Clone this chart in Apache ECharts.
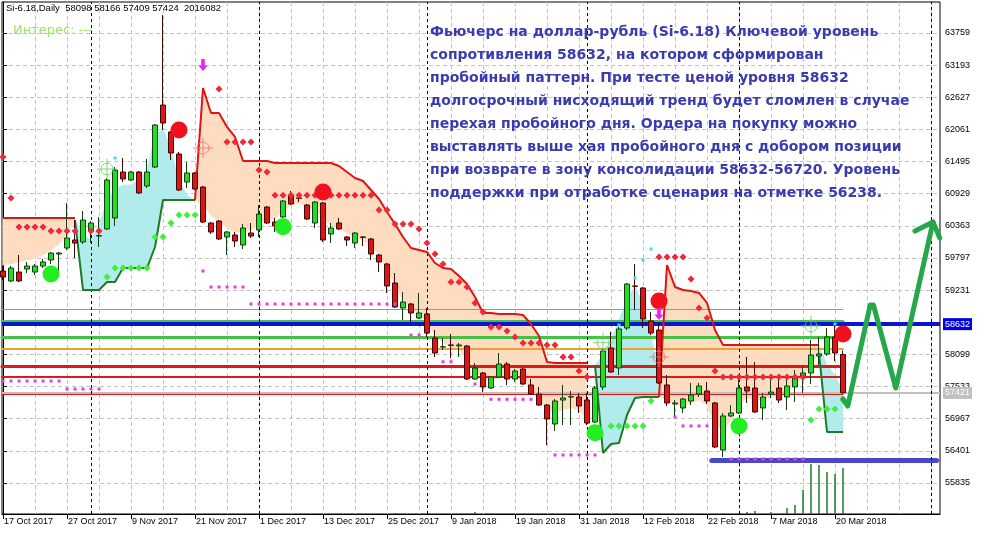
<!DOCTYPE html>
<html>
<head>
<meta charset="utf-8">
<title>Si-6.18 Daily</title>
<script src="https://cdn.jsdelivr.net/npm/echarts@6/dist/echarts.min.js"></script>
<style>
  html, body { margin: 0; padding: 0; background: #fff; }
  #chart { width: 988px; height: 535px; }
</style>
</head>
<body>
<div id="chart"></div>
<script>
// bars are counted from 0 (17 Oct 2017) to 105 (21 Mar 2018), the rest is empty space on the right
const tickBars = [0, 8, 16, 24, 32, 40, 48, 56, 64, 72, 80, 88, 96, 104]
const tickLabels = ['17 Oct 2017', '27 Oct 2017', '9 Nov 2017', '21 Nov 2017', '1 Dec 2017', '13 Dec 2017',
  '25 Dec 2017', '9 Jan 2018', '19 Jan 2018', '31 Jan 2018', '12 Feb 2018', '22 Feb 2018', '7 Mar 2018', '20 Mar 2018']
const priceTicks = [55835, 56401, 56967, 57533, 58099, 58665, 59231, 59797, 60363, 60929, 61495, 62061, 62627, 63193, 63759]
const separatorBars = [11, 32, 53, 73, 92, 116]
const lastVolume = 2016082

// [open, close, low, high]
const candles = [
  [59568, 59462, 59410, 59656], [59392, 59621, 59374, 59656], [59550, 59392, 59374, 59850], [59603, 59656, 59533, 59727],
  [59550, 59656, 59498, 59691], [59656, 59727, 59621, 59780], [59762, 59885, 59691, 59903], [59867, 59885, 59533, 59903],
  [59973, 60149, 59938, 60765], [60114, 60061, 59797, 60466], [60079, 60466, 60043, 60625], [60272, 60413, 60061, 60448],
  [60184, 60190, 59991, 60519], [60308, 61170, 60290, 61206], [60501, 61346, 60360, 61399], [61311, 61188, 61135, 61558],
  [61170, 61311, 61153, 61329], [61311, 60942, 60924, 61329], [61065, 61311, 61030, 61540], [61399, 62139, 61382, 62156],
  [62491, 62174, 62051, 64076], [62016, 61646, 61523, 62033], [61628, 60994, 60977, 61663], [61135, 61294, 61030, 61487],
  [61294, 61012, 60994, 61311], [61047, 60431, 60413, 61065], [60413, 60255, 60220, 60431], [60448, 60132, 60114, 60466],
  [60167, 60255, 59850, 60272], [60202, 60096, 59991, 60255], [60026, 60325, 59956, 60396], [60237, 60184, 60149, 60413],
  [60290, 60572, 60167, 60730], [60695, 60413, 60396, 60712], [60431, 60360, 60255, 60501], [60519, 60801, 60501, 60818],
  [60906, 60748, 60730, 60977], [60854, 60848, 60783, 60941], [60730, 60484, 60466, 60748], [60413, 60783, 60325, 60801],
  [60765, 60114, 60079, 60783], [60220, 60325, 60061, 60413], [60413, 60308, 60290, 60501], [60167, 60114, 60008, 60184],
  [60061, 60237, 59973, 60255], [60167, 60160, 60008, 60184], [60132, 59867, 59762, 60149], [59850, 59727, 59551, 59867],
  [59691, 59304, 59181, 59709], [59357, 58934, 58916, 59533], [58916, 59022, 58705, 59198], [58987, 58829, 58670, 59005],
  [58740, 58829, 58723, 59181], [58811, 58476, 58406, 58916], [58388, 58124, 58054, 58529], [58229, 58235, 58177, 58388],
  [58265, 58258, 58036, 58459], [58250, 58265, 58054, 58300], [58247, 57666, 57649, 58265], [57666, 57860, 57649, 57948],
  [57772, 57526, 57437, 57790], [57508, 57702, 57490, 57719], [57702, 57930, 57684, 58124], [57930, 57666, 57561, 57965],
  [57666, 57807, 57613, 57842], [57842, 57578, 57561, 57860], [57561, 57402, 57384, 57666], [57402, 57208, 57191, 57526],
  [57208, 56962, 56504, 57226], [56874, 57279, 56751, 57314], [57296, 57332, 56856, 57561], [57349, 57355, 56856, 57455],
  [57349, 57191, 57068, 57420], [57296, 56891, 56856, 57420], [56909, 57508, 56891, 57543], [57526, 58159, 57473, 58212],
  [58212, 57790, 57772, 58494], [57860, 58547, 57737, 58582], [58564, 59339, 58529, 59357], [59304, 59298, 58881, 59691],
  [59269, 58723, 58564, 59286], [58688, 58476, 58441, 58846], [58529, 57596, 57578, 58670], [57561, 57244, 57191, 57736],
  [57226, 57244, 56997, 57296], [57156, 57314, 57068, 57332], [57279, 57384, 57208, 57596], [57402, 57543, 57349, 57596],
  [57455, 57279, 57226, 57613], [57244, 56469, 56451, 57261], [56416, 57015, 56292, 57068], [57015, 57068, 56997, 57208],
  [57068, 57508, 57050, 57649], [57526, 57455, 57244, 58054], [57508, 57085, 57068, 57965], [57156, 57349, 56944, 57420],
  [57402, 57437, 57332, 57649], [57508, 57296, 57244, 57736], [57349, 57543, 57120, 57736], [57526, 57702, 57261, 57825],
  [57702, 57772, 57420, 57878], [57772, 58089, 57578, 58353], [58071, 58107, 57913, 58406], [58107, 58406, 58071, 58564],
  [58406, 58124, 57983, 58617], [58098, 57424, 57409, 58166]
]

// channel: red upper line with peach fill, green lower line with cyan fill
const resistStart = [0, 24, 82]
const resistTop = [
  [60501, 60501, 60501, 60501, 60501, 60501, 60501, 60501, 60501, 60501],
  [60818, 62790, 62350, 62350, 62104, 61928, 61505, 61505, 61505, 61505, 61470, 61470, 61470, 61470, 61470, 61470, 61470,
    61470, 61417, 61311, 61206, 61153, 60994, 60836, 60607, 60396, 60167, 59973, 59938, 59903, 59709, 59621, 59603, 59480,
    59339, 59110, 58828, 58828, 58811, 58811, 58811, 58793, 58635, 58423, 57965, 57948, 57948, 57948, 57948, 57948],
  [57349, 59674, 59286, 59233, 59216, 59181, 59005, 58529, 58265, 58265, 58265, 58265, 58265, 58265, 58265, 58265, 58265,
    58265, 58265, 58265, 58265]
]
const resistLow = [
  [59674, 59691, 59726, 59762, 59797, 59850, 59938, 60043, 60220, 60466],
  [60818, 60730, 60554, 60431, 60325, 60255, 60255, 60290, 60378, 60466, 60501, 60607, 60730, 60765, 60695, 60642, 60501,
    60378, 60325, 60237, 60149, 60114, 60026, 59850, 59586, 59321, 59057, 58916, 58811, 58670, 58441, 58300, 58230, 58177,
    58001, 57825, 57684, 57613, 57684, 57719, 57684, 57649, 57508, 57332, 57120, 57085, 57120, 57156, 57120, 56980],
  [57349, 57296, 57208, 57208, 57244, 57296, 57208, 56856, 56768, 56944, 57208, 57332, 57296, 57296, 57349, 57384, 57437,
    57561, 57684, 57913, 58124]
]
const supportStart = [9, 74, 102]
const supportLine = [
  [60466, 59233, 59233, 59233, 59374, 59374, 59621, 59621, 59621, 59621, 59991, 60818, 60818, 60818, 60818, 60818],
  [57913, 56363, 56522, 56539, 57032, 57332, 57349, 57349, 57349],
  [58124, 56733, 56733, 56733]
]
const supportTop = [
  [60466, 60202, 60114, 60378, 60818, 60994, 61082, 61082, 61170, 61346, 61963, 62086, 61699, 61170, 60906, 60818],
  [57913, 58089, 58353, 58705, 59057, 59321, 58969, 58441, 57737],
  [58265, 57913, 57737, 57437]
]

// [bar, price]
const redDiamonds = [[0, 61575], [1, 60853], [2, 60343], [3, 60343], [4, 60343], [5, 60343], [6, 60272], [7, 60272],
  [8, 60272], [9, 60272], [11, 60272], [12, 60272], [27, 62773], [28, 61840], [29, 61840], [30, 61840], [31, 61840],
  [32, 61346], [33, 61311], [34, 60900], [35, 60900], [36, 60900], [37, 60900], [38, 60900], [39, 60900], [40, 60900],
  [41, 60900], [42, 60900], [43, 60900], [44, 60900], [45, 60900], [46, 60900], [47, 60642], [48, 60642], [49, 60396],
  [50, 60396], [51, 60396], [52, 60308], [53, 60061], [54, 59867], [55, 59691], [56, 59374], [57, 59374], [58, 59286],
  [59, 59005], [60, 58846], [61, 58582], [62, 58582], [63, 58511], [64, 58406], [65, 58300], [66, 58300], [67, 58300],
  [68, 58265], [69, 58265], [70, 58054], [71, 58054], [72, 57807], [73, 57702], [82, 59814], [83, 59814], [84, 59814],
  [85, 59814], [86, 59427], [87, 58916], [88, 58740], [89, 57807], [90, 57702], [91, 57702], [92, 57702], [93, 57702],
  [94, 57702], [95, 57702], [96, 57702], [97, 57702], [98, 57702], [99, 57702], [100, 57702]]
const greenDiamonds = [[13, 59462], [14, 59621], [15, 59621], [16, 59621], [17, 59621], [18, 59621], [19, 60167],
  [20, 60167], [21, 60413], [22, 60554], [23, 60554], [24, 60554], [76, 56839], [77, 56839], [78, 56839], [79, 56839],
  [80, 56839], [81, 57279], [101, 56944], [102, 57138], [103, 57138], [104, 57138], [105, 57297]]
const magentaDots = [[0, 57631], [1, 57631], [2, 57631], [3, 57631], [4, 57631], [5, 57631], [6, 57631], [7, 57631],
  [8, 57490], [9, 57490], [10, 57490], [11, 57490], [12, 57490], [25, 59568], [26, 59286], [27, 59286], [28, 59286],
  [29, 59286], [30, 59286], [31, 58987], [32, 58987], [33, 58987], [34, 58987], [35, 58987], [36, 58987], [37, 58987],
  [38, 58987], [39, 58987], [40, 58987], [41, 58987], [42, 58987], [43, 58987], [44, 58987], [45, 58987], [46, 58987],
  [47, 58987], [48, 58987], [49, 58987], [51, 58441], [52, 58441], [55, 57970], [56, 57970], [59, 57578], [61, 57309],
  [62, 57309], [63, 57309], [64, 57309], [65, 57309], [66, 57309], [69, 56328], [70, 56328], [71, 56328], [72, 56328],
  [73, 56328], [74, 56328], [84, 56997], [85, 56839], [86, 56839], [87, 56839], [88, 56839], [91, 56258], [92, 56258],
  [93, 56258], [94, 56258], [95, 56258], [96, 56258], [97, 56258], [98, 56258], [99, 56258], [100, 56258]]
const cyanDots = [[14, 61558], [77, 58617], [79, 59445], [80, 59762], [81, 59955], [104, 58635]]
const redCircles = [[22, 62051], [40, 60959], [82, 59040], [105, 58459]]
const greenCircles = [[6, 59515], [35, 60348], [74, 56721], [92, 56839]]
const greenTargets = [[13, 61364], [75, 58306], [101, 58600]]
const redTargets = [[25, 61734], [82, 58054]]
const sellArrows = [[25, 63195], [82, 58811]]
const histogram = [[49, 55307], [59, 55324], [93, 55324], [94, 55342], [96, 55324], [98, 55395], [99, 55447],
  [100, 55712], [101, 56169], [102, 56152], [103, 56029], [104, 55993], [105, 56099]]

// levels
const resistanceLevel = 58632
const bidLevel = 57421
const greenLevels = [58899, 58687, 58406]
const orangeLevel = 58195
const redLevels = [57895, 57702, 57402]
const supportLevel = 56238
const levelsEndBar = 105
const supportFromBar = 88.6
const supportToBar = 116.7

// scenario drawn on the right
const forecastPath = [[105, 57314], [105.6, 57191], [108.4, 58969], [108.8, 58969], [111.6, 57508], [116.25, 60431]]
const forecastHead = [[114, 60272], [116.25, 60431], [117.1, 60150]]

const noteLines = [
  'Фьючерс на доллар-рубль (Si-6.18) Ключевой уровень',
  'сопротивления 58632, на котором сформирован',
  'пробойный паттерн. При тесте ценой уровня 58632',
  'долгосрочный нисходящий тренд будет сломлен в случае',
  'перехая пробойного дня. Ордера на покупку можно',
  'выставлять выше хая пробойного дня с добором позиции',
  'при возврате в зону консолидации 58632-56720. Уровень',
  'поддержки при отработке сценария на отметке 56238.'
]

const BAR_MIN = -0.125
const BAR_MAX = 117.125
const FONT = 'Liberation Sans'
const gridBars = []
for (let b = 4; b <= 116; b += 4) gridBars.push(b)

function seg(start, values) {
  return values.map((v, k) => [start + k, v])
}

function channelLine(start, values, color) {
  return {
    type: 'line', z: 3, silent: true, symbol: 'none',
    data: seg(start, values),
    lineStyle: { color: color, width: 2 }
  }
}

function band(start, lower, upper, color) {
  const items = []
  for (let k = 0; k < lower.length - 1; k++) {
    items.push([start + k, lower[k], upper[k], lower[k + 1], upper[k + 1]])
  }
  return {
    type: 'custom', z: 1, silent: true,
    data: items,
    encode: { x: 0, y: [1, 2, 3, 4] },
    renderItem: function (params, api) {
      const x = api.value(0)
      const pts = [
        api.coord([x, api.value(2)]),
        api.coord([x + 1, api.value(4)]),
        api.coord([x + 1, api.value(3)]),
        api.coord([x, api.value(1)])
      ]
      return { type: 'polygon', shape: { points: pts }, style: { fill: color, stroke: color, lineWidth: 0.6 } }
    }
  }
}

function marks(data, symbol, size, color, z) {
  return {
    type: 'scatter', z: z, silent: true,
    data: data, symbol: symbol, symbolSize: size,
    itemStyle: { color: color, opacity: 1 }
  }
}

function target(data, color) {
  return {
    type: 'scatter', z: 6, silent: true,
    data: data,
    symbol: 'path://M10,4 A6,6 0 1 1 9.99,4 Z M0,10 L20,10 M10,0 L10,20',
    symbolSize: 20,
    itemStyle: { color: 'rgba(0,0,0,0)', borderColor: color, borderWidth: 1 }
  }
}

function partLevel(value, color, width, fromBar, toBar) {
  return [
    { coord: [fromBar, value], lineStyle: { color: color, width: width, type: 'solid', cap: 'round' } },
    { coord: [toBar, value] }
  ]
}

const series = []
for (let i = 0; i < resistStart.length; i++) {
  series.push(band(resistStart[i], resistLow[i], resistTop[i], '#fddcbf'))
  series.push(channelLine(resistStart[i], resistTop[i], '#e01414'))
}
for (let i = 0; i < supportStart.length; i++) {
  series.push(band(supportStart[i], supportLine[i], supportTop[i], '#b2ebeb'))
  series.push(channelLine(supportStart[i], supportLine[i], '#1d7a25'))
}

// horizontal levels and month separators
series.push({
  type: 'line', data: [], silent: true,
  markLine: {
    z: 2, silent: true, symbol: 'none', animation: false,
    label: { show: false },
    data: [
      partLevel(greenLevels[0], '#5cc05c', 1, BAR_MIN, levelsEndBar),
      partLevel(greenLevels[1], '#46c046', 3, BAR_MIN, levelsEndBar),
      partLevel(greenLevels[2], '#46c046', 3, BAR_MIN, levelsEndBar),
      partLevel(orangeLevel, '#f0a030', 2, BAR_MIN, levelsEndBar),
      partLevel(redLevels[0], '#e01818', 3, BAR_MIN, levelsEndBar),
      partLevel(redLevels[1], '#e01818', 2, BAR_MIN, levelsEndBar),
      partLevel(redLevels[2], '#e01818', 1, BAR_MIN, levelsEndBar),
      {
        yAxis: bidLevel,
        lineStyle: { color: '#c0c0c0', width: 2, type: 'solid' },
        label: {
          show: true, position: 'end', distance: 3, formatter: String(bidLevel),
          backgroundColor: '#c0c0c0', color: '#fff', fontFamily: FONT, fontSize: 9, padding: [2, 2, 1, 2]
        }
      },
      {
        yAxis: resistanceLevel,
        lineStyle: { color: '#0a14d2', width: 4, type: 'solid' },
        label: {
          show: true, position: 'end', distance: 3, formatter: String(resistanceLevel),
          backgroundColor: '#0000e6', color: '#fff', fontFamily: FONT, fontSize: 9, padding: [2, 2, 1, 2]
        }
      },
      partLevel(supportLevel, '#4848c8', 5, supportFromBar, supportToBar)
    ].concat(separatorBars.map(b => ({ xAxis: b, lineStyle: { color: '#000', width: 1, type: [3, 3] } })))
  }
})

series.push({
  type: 'bar', z: 2, silent: true,
  data: histogram, barWidth: 1.5,
  itemStyle: { color: '#1d7a25' }
})

series.push({
  type: 'candlestick', z: 4, silent: true,
  data: candles.map((c, i) => [i, c[0], c[1], c[2], c[3]]),
  encode: { x: 0, y: [1, 2, 3, 4] },
  barWidth: 5,
  itemStyle: {
    color: '#22dd22', color0: '#dd1515',
    borderColor: '#143c14', borderColor0: '#3c0808', borderColorDoji: '#000',
    borderWidth: 1
  }
})

series.push(marks(magentaDots, 'rect', 3, '#e040e0', 5))
series.push(marks(cyanDots, 'rect', 3, '#40dcec', 5))
series.push(marks(redDiamonds, 'diamond', 7, '#f0283c', 5))
series.push(marks(greenDiamonds, 'diamond', 7, '#40ee40', 5))
series.push(marks(redCircles, 'circle', 17, '#f0101e', 6))
series.push(marks(greenCircles, 'circle', 17, '#22ee22', 6))
series.push(target(greenTargets, '#5ad05a'))
series.push(target(redTargets, '#e87070'))
series.push(marks(sellArrows, 'path://M3,0 L7,0 L7,7 L10,7 L5,13 L0,7 L3,7 Z', [9, 12], '#ee22ee', 6))

series.push({
  type: 'line', z: 7, silent: true, symbol: 'none', clip: false,
  data: forecastPath,
  lineStyle: { color: '#27a64a', width: 5, cap: 'round', join: 'round' }
})
series.push({
  type: 'line', z: 7, silent: true, symbol: 'none', clip: false,
  data: forecastHead,
  lineStyle: { color: '#27a64a', width: 5, cap: 'round', join: 'round' }
})

const last = candles[candles.length - 1]
const header = 'Si-6.18,Daily  ' + [last[0], last[3], last[2], last[1]].join(' ') + '  ' + lastVolume

const chart = echarts.init(document.getElementById('chart'))
chart.setOption({
  animation: false,
  backgroundColor: '#fff',
  title: [
    {
      text: header, left: 6, top: 3, padding: 0,
      textStyle: { fontFamily: FONT, fontSize: 9.5, fontWeight: 'normal', color: '#000' }
    },
    {
      text: 'Интерес: ---', left: 13, top: 24, padding: 0,
      textStyle: { fontFamily: 'DejaVu Sans', fontSize: 13, fontWeight: 'normal', color: '#9be36a' }
    },
    {
      text: noteLines.join('\n'), left: 430, top: 21, padding: 0,
      textStyle: { fontFamily: 'DejaVu Sans', fontSize: 14, fontWeight: 'bold', color: '#3b3bb0', lineHeight: 23 }
    }
  ],
  grid: {
    left: 2, right: 48, top: 2, bottom: 21,
    show: true, borderColor: '#000', borderWidth: 1,
    outerBoundsMode: 'none'
  },
  xAxis: [
    {
      type: 'value', min: BAR_MIN, max: BAR_MAX, position: 'bottom',
      axisLine: { lineStyle: { color: '#000', width: 1 } },
      axisTick: { show: true, length: 5, customValues: tickBars, lineStyle: { color: '#000' } },
      axisLabel: {
        customValues: tickBars, align: 'left', margin: 3, padding: [0, 0, 0, 1],
        fontFamily: FONT, fontSize: 9, color: '#000',
        formatter: v => tickLabels[tickBars.indexOf(v)] || ''
      },
      splitLine: { show: false }
    },
    {
      type: 'value', min: BAR_MIN, max: BAR_MAX, position: 'bottom', interval: 4,
      axisLine: { show: false },
      axisTick: { show: false, customValues: gridBars },
      axisLabel: { show: false },
      splitLine: { show: true, lineStyle: { color: '#c4c4c4', width: 1, type: [4, 3] } }
    }
  ],
  yAxis: {
    type: 'value', position: 'right', min: 55289, max: 64305,
    axisLine: { show: true, lineStyle: { color: '#000', width: 1 } },
    axisTick: { show: true, length: 4, customValues: priceTicks, lineStyle: { color: '#000' } },
    axisLabel: {
      customValues: priceTicks, margin: 5, fontFamily: FONT, fontSize: 9, color: '#000',
      formatter: v => String(v)
    },
    splitLine: { show: true, lineStyle: { color: '#c4c4c4', width: 1, type: [4, 3] } }
  },
  series: series
})
</script>
</body>
</html>
